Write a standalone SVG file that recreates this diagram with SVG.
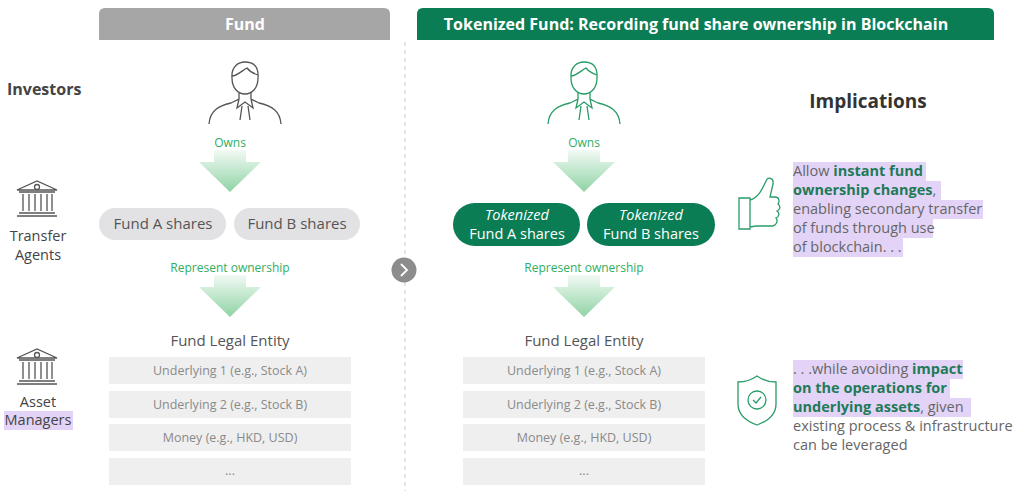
<svg xmlns="http://www.w3.org/2000/svg" width="1014" height="491" viewBox="0 0 1014 491">
<style>
text{font-family:"Open Sans","Noto Sans",sans-serif}
.g{fill:#2fae5f;font-size:12px;text-anchor:middle}
.row{fill:#efefef}
.rt{fill:#8a8a8a;font-size:12.5px;text-anchor:middle}
.pill{fill:#e2e2e4}
.pt{fill:#555;font-size:15px;text-anchor:middle}
.gp{fill:#0b7d55}
.wt{fill:#fff;font-size:14.5px;text-anchor:middle}
.ico{fill:none;stroke:#555;stroke-width:1.3}
.gico{fill:none;stroke:#2a9c68;stroke-width:1.3}
.hl{fill:#e3d4f7}
.imp{font-size:14.5px;fill:#666}
.b{font-weight:bold;fill:#1f7a57}
.lbl{fill:#444;font-size:14.5px;text-anchor:middle}
</style>
<defs>
<linearGradient id="ag" x1="0" y1="0" x2="0" y2="1">
<stop offset="0" stop-color="#f2faf4"/><stop offset="1" stop-color="#8fd3a5"/>
</linearGradient>
<g id="arrow"><path d="M-16,0 H16 V12 H31 L0,42 L-31,12 H-16 Z" fill="url(#ag)"/></g>
<g id="person"><path d="M-13,-18 C-14,-30 -6,-34 0,-34 C8,-34 14,-30 13,-18 C13,-8 7,-2 0,-2 C-7,-2 -13,-8 -13,-18 Z M-13,-20 C-8,-20 -2,-26 2,-28 C5,-24 10,-22 13,-21 M-6,-4 V3 L-14,7 C-27,10 -35,15 -36,28 M6,-4 V3 L14,7 C27,10 35,15 36,28 M-6,3 L-8,12 L0,6 L8,12 L6,3 M-3,10 L-5,24 M3,10 L5,24"/></g>
<g id="bank"><path d="M-20,-10 L0,-19 L20,-10 Z M-18,-8 H18 M-18,13 H18 M-20,16 H20 M-14,-6 V11 M-8,-6 V11 M-2,-6 V11 M4,-6 V11 M10,-6 V11 M15,-6 V11"/><circle cx="0" cy="-13" r="2.5"/></g>
</defs>
<rect width="1014" height="491" fill="#fff"/>
<g id="headers">
<path d="M99,40 V14 Q99,8 105,8 H384 Q390,8 390,14 V40 Z" fill="#a6a6a6"/>
<text x="245" y="30" fill="#fff" font-size="16" font-weight="bold" text-anchor="middle">Fund</text>
<path d="M417,40 V14 Q417,8 423,8 H988 Q994,8 994,14 V40 Z" fill="#0b7d55"/>
<text x="696" y="30" fill="#fff" font-size="16" font-weight="bold" text-anchor="middle">Tokenized Fund: Recording fund share ownership in Blockchain</text>
</g>
<line x1="405" y1="42" x2="405" y2="491" stroke="#c8c8c8" stroke-dasharray="4,4"/>
<g id="side">
<text x="7" y="95" fill="#444" font-size="16" font-weight="bold">Investors</text>
<use href="#bank" x="37" y="200" class="ico"/>
<text x="38" y="241" class="lbl">Transfer</text><text x="38" y="260" class="lbl">Agents</text>
<use href="#bank" x="37" y="368" class="ico"/>
<text x="38" y="407" class="lbl">Asset</text>
<rect x="4" y="411" width="69" height="19" class="hl"/>
<text x="38" y="425" class="lbl">Managers</text>
</g>
<g id="left">
<use href="#person" x="245" y="96" class="ico"/>
<text x="230" y="147" class="g">Owns</text>
<use href="#arrow" x="230" y="150"/>
<g id="fundA"><rect x="99" y="208" width="127" height="32" rx="16" class="pill"/><text x="163" y="229" class="pt">Fund A shares</text></g>
<g id="fundB"><rect x="234" y="208" width="126" height="32" rx="16" class="pill"/><text x="297" y="229" class="pt">Fund B shares</text></g>
<text x="230" y="272" class="g">Represent ownership</text>
<use href="#arrow" x="230" y="275"/>
<text x="230" y="346" class="pt">Fund Legal Entity</text>
<rect x="109" y="357" width="242" height="27" class="row"/><text x="230" y="375" class="rt">Underlying 1 (e.g., Stock A)</text>
<rect x="109" y="391" width="242" height="27" class="row"/><text x="230" y="409" class="rt">Underlying 2 (e.g., Stock B)</text>
<rect x="109" y="424" width="242" height="27" class="row"/><text x="230" y="442" class="rt">Money (e.g., HKD, USD)</text>
<rect x="109" y="458" width="242" height="27" class="row"/><text x="230" y="475" class="rt">...</text>
</g>
<g id="mid"><circle cx="404" cy="270" r="12.5" fill="#8c8c8c"/><path d="M401,264 L407,270 L401,276" fill="none" stroke="#fff" stroke-width="1.8"/></g>
<g id="right">
<use href="#person" x="584" y="96" class="gico"/>
<text x="584" y="147" class="g">Owns</text>
<use href="#arrow" x="584" y="150"/>
<g id="tokA"><rect x="453" y="203" width="127" height="43" rx="21.5" class="gp"/><text x="517" y="220" class="wt" font-style="italic">Tokenized</text><text x="517" y="239" class="wt">Fund A shares</text></g>
<g id="tokB"><rect x="587" y="203" width="128" height="43" rx="21.5" class="gp"/><text x="651" y="220" class="wt" font-style="italic">Tokenized</text><text x="651" y="239" class="wt">Fund B shares</text></g>
<text x="584" y="272" class="g">Represent ownership</text>
<use href="#arrow" x="584" y="275"/>
<text x="584" y="346" class="pt">Fund Legal Entity</text>
<rect x="463" y="357" width="242" height="27" class="row"/><text x="584" y="375" class="rt">Underlying 1 (e.g., Stock A)</text>
<rect x="463" y="391" width="242" height="27" class="row"/><text x="584" y="409" class="rt">Underlying 2 (e.g., Stock B)</text>
<rect x="463" y="424" width="242" height="27" class="row"/><text x="584" y="442" class="rt">Money (e.g., HKD, USD)</text>
<rect x="463" y="458" width="242" height="27" class="row"/><text x="584" y="475" class="rt">...</text>
</g>
<g id="implications">
<text x="868" y="108" fill="#333" font-size="19" font-weight="bold" text-anchor="middle">Implications</text>
<path class="gico" d="M739,198 H750 V229 H739 Z M750,200 C758,198 762,190 766,181 C768,176 774,178 773,184 L770,197 H775 C779,197 780,201 778,204 C781,206 780,210 777,211 C780,213 779,217 776,218 C778,220 777,225 773,226 H756 L750,227"/>
<rect x="793" y="162" width="133" height="19" class="hl"/>
<rect x="793" y="181" width="148" height="19" class="hl"/>
<rect x="793" y="200" width="190" height="19" class="hl"/>
<rect x="793" y="219" width="140" height="19" class="hl"/>
<rect x="793" y="238" width="110" height="19" class="hl"/>
<text class="imp"><tspan x="793" y="176">Allow <tspan class="b">instant fund</tspan></tspan><tspan x="793" y="195"><tspan class="b">ownership changes</tspan>,</tspan><tspan x="793" y="214">enabling secondary transfer</tspan><tspan x="793" y="233">of funds through use</tspan><tspan x="793" y="252">of blockchain. . .</tspan></text>
<path class="gico" d="M757,376 C750,381 744,382 738,382 V404 C738,414 746,421 757,425 C768,421 776,414 776,404 V382 C770,382 764,381 757,376 Z"/>
<circle cx="757" cy="400" r="9" class="gico"/><path class="gico" d="M753,400 L756,403 L761,397"/>
<rect x="793" y="360" width="170" height="19" class="hl"/>
<rect x="793" y="379" width="157" height="19" class="hl"/>
<rect x="793" y="398" width="178" height="19" class="hl"/>
<text class="imp"><tspan x="793" y="374">. . .while avoiding <tspan class="b">impact</tspan></tspan><tspan x="793" y="393"><tspan class="b">on the operations for</tspan></tspan><tspan x="793" y="412"><tspan class="b">underlying assets</tspan>, given</tspan><tspan x="793" y="431">existing process &amp; infrastructure</tspan><tspan x="793" y="450">can be leveraged</tspan></text>
</g>
</svg>
